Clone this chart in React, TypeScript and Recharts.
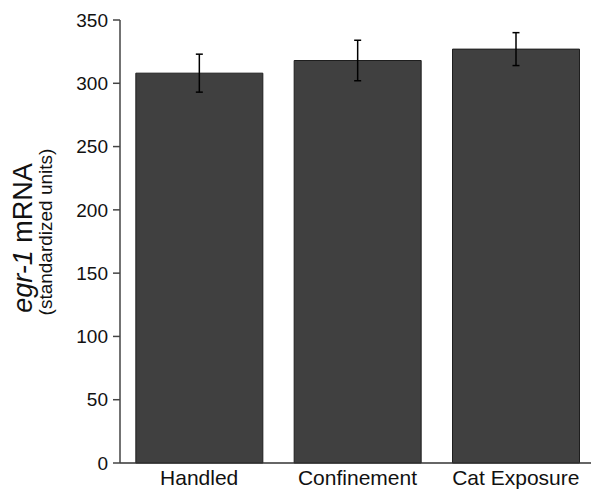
import { BarChart, Bar, XAxis, YAxis, ErrorBar } from "recharts";

const categories = ["Handled", "Confinement", "Cat Exposure"];
const values = [308, 318, 327];
const errors = [15, 16, 13];
const yTicks = [0, 50, 100, 150, 200, 250, 300, 350];

const data = categories.map((name, i) => ({
  name,
  value: values[i],
  err: errors[i],
}));

const FONT = "Arial, 'Liberation Sans', sans-serif";

// two-line rotated axis title, first word in italics
function YLabel() {
  return (
    <g fill="#111" fontFamily={FONT}>
      <text x={32} y={238} transform="rotate(-90, 32, 238)" textAnchor="middle" fontSize={27}>
        <tspan fontStyle="italic">egr-1</tspan>
        <tspan> mRNA</tspan>
      </text>
      <text x={52} y={232} transform="rotate(-90, 52, 232)" textAnchor="middle" fontSize={19}>
        (standardized units)
      </text>
    </g>
  );
}

export default function App() {
  return (
    <div
      style={{
        position: "absolute",
        top: 0,
        left: 0,
        width: 591,
        height: 490,
        overflow: "hidden",
        background: "#fff",
      }}
    >
      <BarChart
        width={595}
        height={490}
        data={data}
        margin={{ top: 20, right: 0, bottom: 0, left: 0 }}
        barCategoryGap="10%"
      >
        <XAxis
          dataKey="name"
          height={27}
          tickLine={false}
          tickSize={0}
          tickMargin={7}
          axisLine={{ stroke: "#333", strokeWidth: 1.5 }}
          tick={{ fill: "#111", fontSize: 21, fontFamily: FONT }}
          interval={0}
        />
        <YAxis
          width={120}
          domain={[0, 350]}
          ticks={yTicks}
          tickSize={7}
          tickMargin={5}
          axisLine={{ stroke: "#444", strokeWidth: 1.5 }}
          tickLine={{ stroke: "#444", strokeWidth: 1.5 }}
          tick={{ fill: "#111", fontSize: 19, fontFamily: FONT }}
          label={<YLabel />}
        />
        <Bar dataKey="value" fill="#404040" stroke="#1e1e1e" strokeWidth={1} isAnimationActive={false}>
          <ErrorBar dataKey="err" width={3.5} stroke="#000" strokeWidth={1.5} isAnimationActive={false} />
        </Bar>
      </BarChart>
    </div>
  );
}
